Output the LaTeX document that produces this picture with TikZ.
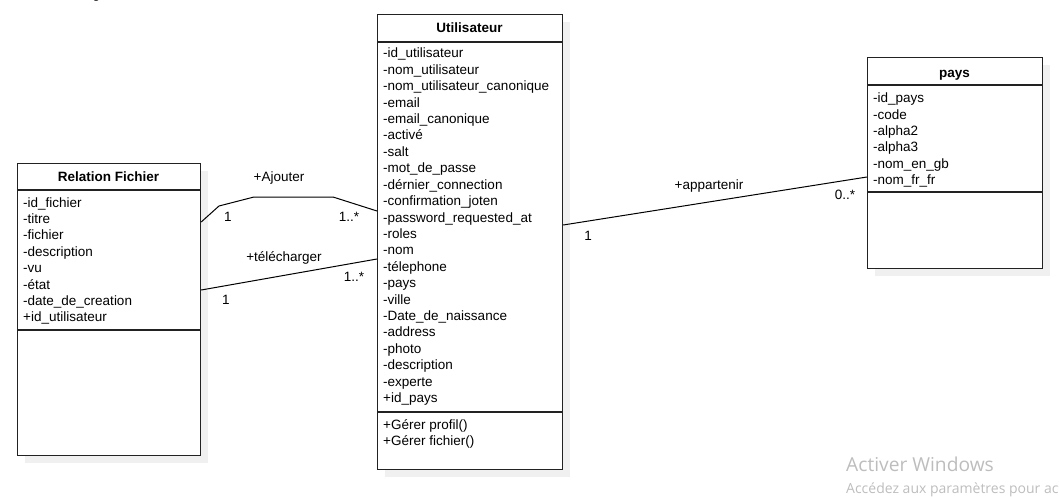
\documentclass[tikz,border=0pt]{standalone}
\usepackage{fontspec}
\setmainfont{Liberation Sans}
\newfontfamily\wmfont{Open Sans}
\usetikzlibrary{calc}
\definecolor{shadowgray}{HTML}{F0F0F0}
\definecolor{boxline}{HTML}{222222}
\definecolor{wmgray}{HTML}{BDBDBD}
\tikzset{
  classbox/.style={draw=boxline, line width=1.2pt, fill=white, inner sep=0pt, anchor=north west},
  shadowbox/.style={fill=shadowgray, draw=none, inner sep=0pt, anchor=north west},
  sepline/.style={draw=boxline, line width=1.2pt},
  attr/.style={anchor=base west, inner sep=0pt, font=\fontsize{13.5}{16}\selectfont},
  ctitle/.style={anchor=base, inner sep=0pt, font=\fontsize{13.5}{16}\selectfont\bfseries},
  assoc/.style={draw=black, line width=1pt},
  lbl/.style={inner sep=0pt, font=\fontsize{13.5}{16}\selectfont},
}
\begin{document}
\begin{tikzpicture}[x=1pt,y=-1pt]
\useasboundingbox (0,0) rectangle (1059,497);
% cut-off caption at top
\node[anchor=base east, inner sep=0pt, font=\fontsize{13.5}{16}\selectfont] (cap) at (131,-1) {Model::ClassDiagram1};
% shadows
\node[shadowbox, minimum width=183pt, minimum height=292pt] (rfs) at (25,171) {};
\node[shadowbox, minimum width=185pt, minimum height=455pt] (us) at (385,22) {};
\node[shadowbox, minimum width=175pt, minimum height=211pt] (ps) at (875,65) {};
% boxes
\node[classbox, minimum width=183pt, minimum height=292pt] (rf) at (17,163) {};
\node[classbox, minimum width=185pt, minimum height=455pt] (u) at (377,14) {};
\node[classbox, minimum width=175pt, minimum height=211pt] (p) at (867,57) {};
% separators
\draw[sepline] ($(rf.north west)+(0,27)$) -- ($(rf.north east)+(0,27)$);
\draw[sepline] ($(rf.north west)+(0,167)$) -- ($(rf.north east)+(0,167)$);
\draw[sepline] ($(u.north west)+(0,28)$) -- ($(u.north east)+(0,28)$);
\draw[sepline] ($(u.north west)+(0,398)$) -- ($(u.north east)+(0,398)$);
\draw[sepline] ($(p.north west)+(0,28)$) -- ($(p.north east)+(0,28)$);
\draw[sepline] ($(p.north west)+(0,135)$) -- ($(p.north east)+(0,135)$);
% titles
\node[ctitle] (rft) at (108.5,182) {Relation Fichier};
\node[ctitle] (ut) at (469.5,33) {Utilisateur};
\node[ctitle] (pt) at (954.5,78) {pays};
% attributes Relation Fichier
\foreach \t [count=\i from 0] in {-id\_fichier,-titre,-fichier,-description,-vu,-état,-date\_de\_creation,+id\_utilisateur}
  \node[attr] (rfa\i) at (23,{207+16.4*\i}) {\t};
% attributes Utilisateur
\foreach \t [count=\i from 0] in {-id\_utilisateur,-nom\_utilisateur,-nom\_utilisateur\_canonique,-email,-email\_canonique,-activé,-salt,-mot\_de\_passe,-dérnier\_connection,-confirmation\_joten,-password\_requested\_at,-roles,-nom,-télephone,-pays,-ville,-Date\_de\_naissance,-address,-photo,-description,-experte,+id\_pays}
  \node[attr] (ua\i) at (383,{58+16.4*\i}) {\t};
% methods Utilisateur
\node[attr] (um0) at (383,429) {+Gérer profil()};
\node[attr] (um1) at (383,445.4) {+Gérer fichier()};
% attributes pays
\foreach \t [count=\i from 0] in {-id\_pays,-code,-alpha2,-alpha3,-nom\_en\_gb,-nom\_fr\_fr}
  \node[attr] (pa\i) at (873,{103+16.3*\i}) {\t};
% associations
\coordinate (aj1) at (219,206);
\coordinate (aj2) at (254,197);
\coordinate (aj3) at (333,197);
\draw[assoc] ($(rf.north east)+(0,59)$) -- (aj1) -- (aj2) -- (aj3) -- ($(u.north west)+(0,197)$);
\draw[assoc] ($(rf.north east)+(0,127)$) -- ($(u.north west)+(0,245)$);
\draw[assoc] ($(u.north east)+(0,211)$) -- ($(p.north west)+(0,120)$);
% association labels
\node[lbl] (lajo) at (279,178) {+Ajouter};
\node[lbl] (laj1) at (228,217) {1};
\node[lbl] (laj2) at (349,217) {1..*};
\node[lbl] (ltel) at (284,258) {+télécharger};
\node[lbl] (ltel1) at (226,300) {1};
\node[lbl] (ltel2) at (354,277) {1..*};
\node[lbl] (lapp) at (709,186) {+appartenir};
\node[lbl] (lapp1) at (588,236) {1};
\node[lbl] (lapp2) at (845,195) {0..*};
% watermark
\node[anchor=base west, inner sep=0pt, text=wmgray, font=\wmfont\fontsize{19.2}{21}\selectfont] (wm1) at (846,471) {Activer Windows};
\node[anchor=base west, inner sep=0pt, text=wmgray, font=\wmfont\fontsize{14}{16}\selectfont] (wm2) at (846,493) {Accédez aux paramètres pour activer Windows.};
\end{tikzpicture}
\end{document}
